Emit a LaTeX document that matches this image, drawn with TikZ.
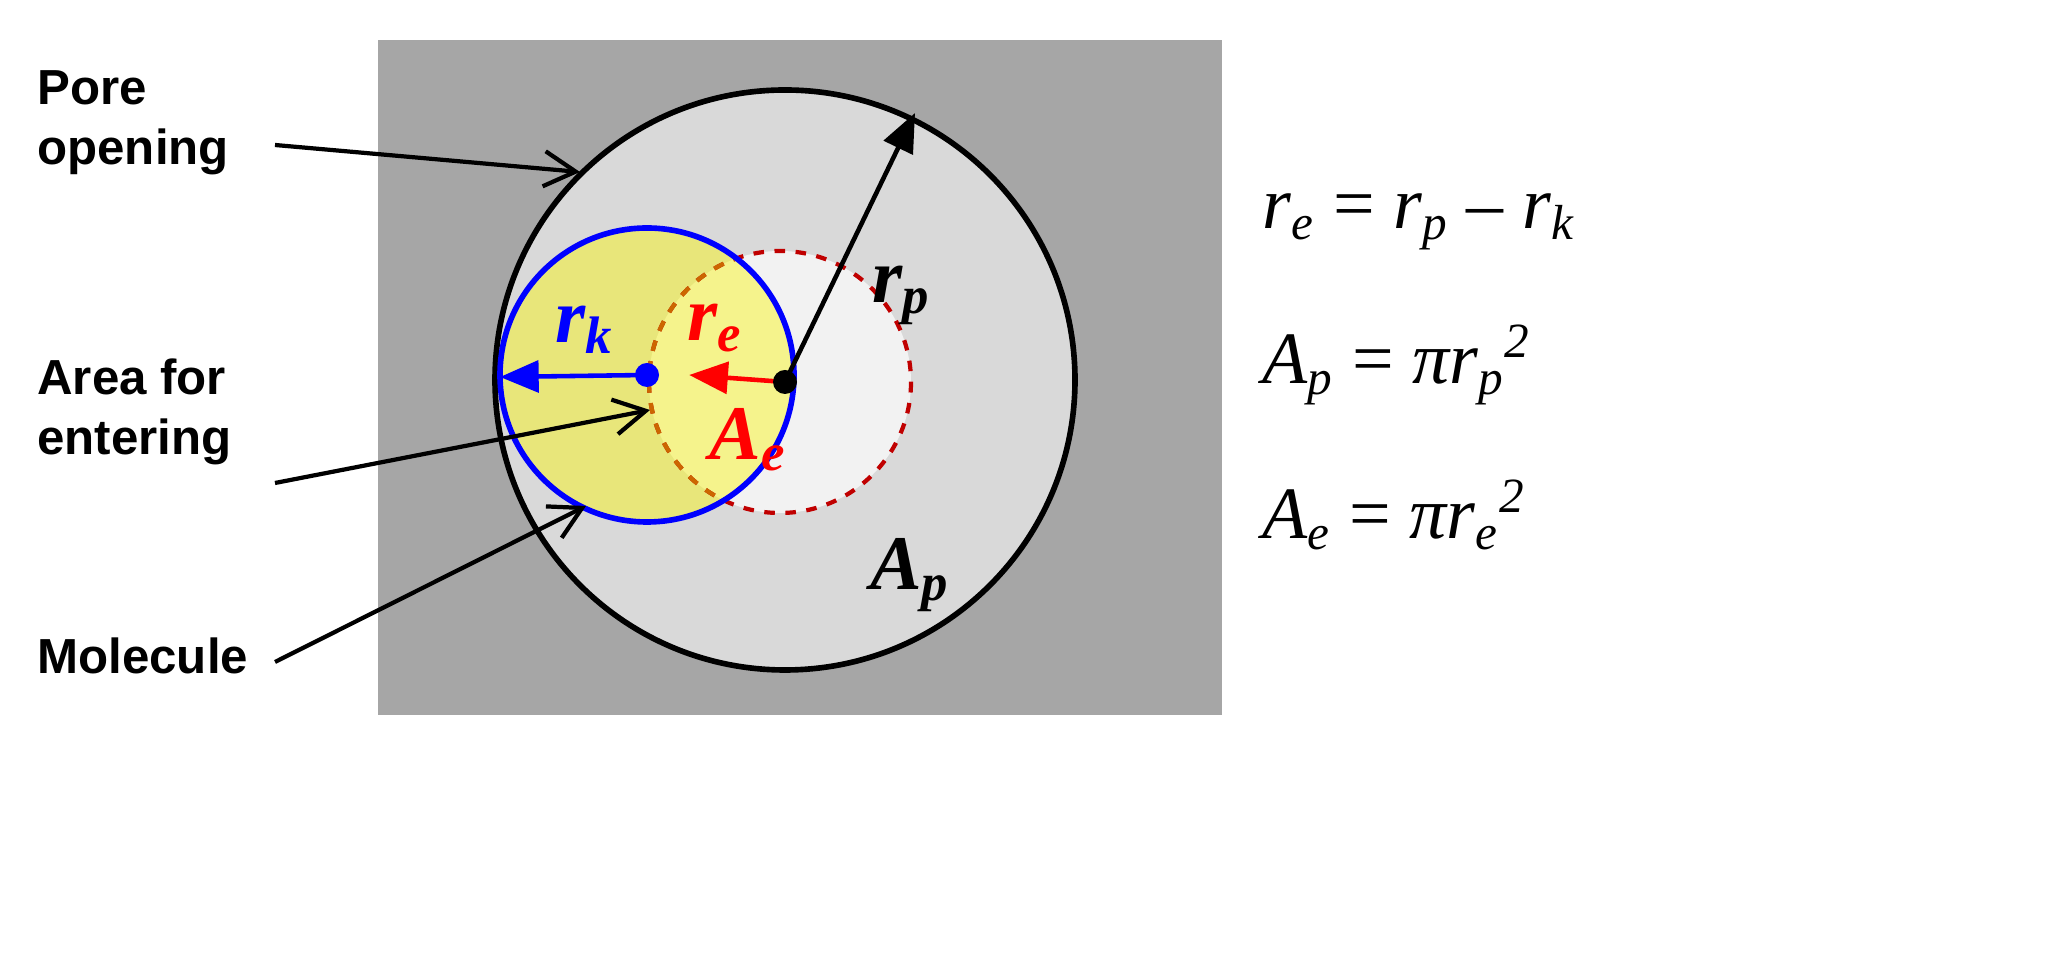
\documentclass[tikz,border=0pt]{standalone}
\usepackage{fontspec}
\setmainfont{Liberation Serif}
\setsansfont{Liberation Sans}
\usetikzlibrary{arrows.meta}
\definecolor{bg}{HTML}{A6A6A6}
\definecolor{pore}{HTML}{D9D9D9}
\definecolor{lite}{HTML}{F2F2F2}
\definecolor{ydark}{HTML}{E8E67A}
\definecolor{ylite}{HTML}{F5F38C}
\definecolor{dred}{HTML}{C00000}
\newcommand{\sbx}[1]{\textsubscript{\fontsize{15}{15}\selectfont #1}}
\newcommand{\sbq}[1]{\textsubscript{\fontsize{14}{14}\selectfont #1}}
\newcommand{\spq}[1]{\textsuperscript{\fontsize{14}{14}\selectfont #1}}
\begin{document}
\begin{tikzpicture}[x=0.01cm,y=-0.01cm,
 lbl/.style={font=\sffamily\bfseries\fontsize{14}{17}\selectfont,align=left,anchor=west},
 ptr/.style={-{Straight Barb[length=9pt,width=10pt]},line width=1.2pt},
 rad/.style={-{Triangle[length=11pt,width=9pt]},line width=1.3pt},
 eq/.style={font=\itshape\fontsize{21}{24}\selectfont,anchor=west}]
\useasboundingbox (0,0) rectangle (2051,977);
\fill[bg] (378,40) rectangle (1222,715);
\fill[pore] (785,380) circle (290);
\fill[lite] (780,382) circle (131);
\fill[ydark] (647,375) circle (147);
\begin{scope}
 \clip (647,375) circle (147);
 \fill[ylite] (780,382) circle (131);
\end{scope}
\draw[line width=1.6pt] (785,380) circle (290);
\draw[dred,dashed,line width=1.2pt] (780,382) circle (131);
\begin{scope}
 \clip (647,375) circle (147);
 \draw[orange!80!black,dashed,line width=1.2pt] (780,382) circle (131);
\end{scope}
\draw[blue,line width=1.6pt] (647,375) circle (147);
\coordinate (c) at (785,382);
\coordinate (b) at (647,375);
\coordinate (rpend) at (915,113);
\coordinate (rkend) at (500,377);
\draw[rad] (c) -- (rpend);
\draw[rad,red] (c) -- ([xshift=12]b);
\draw[rad,blue] (b) -- (rkend);
\fill (c) circle (12);
\fill[blue] (b) circle (12);
\node[font=\bfseries\itshape\fontsize{22}{24}\selectfont] (rp) at (902,295) {r\sbx{p}};
\node[font=\bfseries\itshape\fontsize{22}{24}\selectfont,blue] (rk) at (585,330) {r\sbx{k}};
\node[font=\bfseries\itshape\fontsize{22}{24}\selectfont,red] (re) at (715,328) {r\sbx{e}};
\node[font=\bfseries\itshape\fontsize{22}{24}\selectfont,red] (ae) at (748,440) {A\sbx{e}};
\node[font=\bfseries\itshape\fontsize{22}{24}\selectfont] (ap) at (910,575) {A\sbx{p}};
\node[lbl] (pore) at (25,123) {Pore\\opening};
\node[lbl] (area) at (25,412) {Area for\\entering};
\node[lbl] (mol) at (25,656) {Molecule};
\coordinate (t1) at (580,172);
\coordinate (t2) at (650,410);
\coordinate (t3) at (586,506);
\draw[ptr] (275,145) -- (t1);
\draw[ptr] (275,483) -- (t2);
\draw[ptr] (275,662) -- (t3);
\node[eq] (e1) at (1250,222) {r\sbq{e}\upshape{} = \itshape r\sbq{p}\upshape{} – \itshape r\sbq{k}};
\node[eq] (e2) at (1250,365) {A\sbq{p}\upshape{} = \itshape πr\sbq{p}\spq{2}};
\node[eq] (e3) at (1250,515) {A\sbq{e}\upshape{} = \itshape πr\sbq{e}\spq{2}};
\end{tikzpicture}
\end{document}
